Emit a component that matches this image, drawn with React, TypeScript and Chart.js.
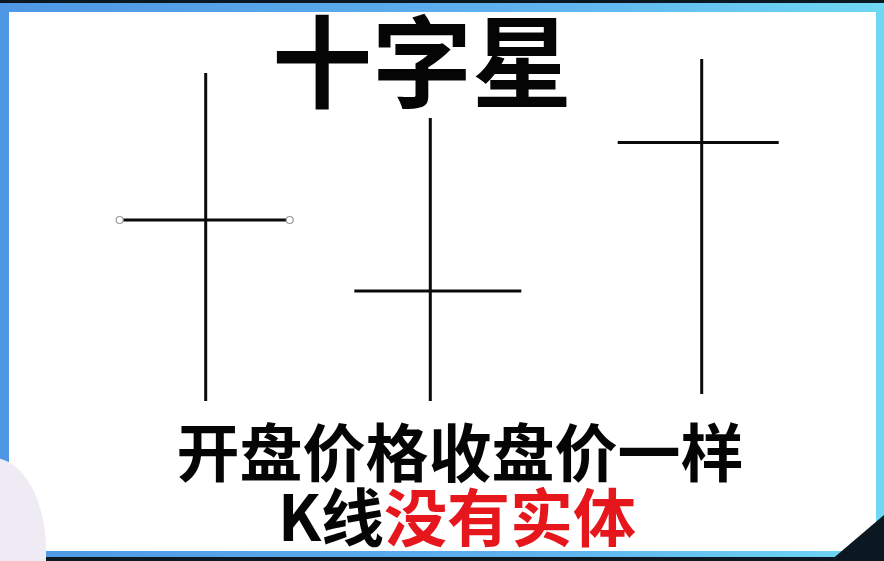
import { useEffect, useRef } from "react"
import { Chart, registerables } from "chart.js"

Chart.register(...registerables)

// three doji candles: open and close are the same price
const candleLabels = ["十字星 1", "十字星 2", "十字星 3"]
const candleX = [20.57, 43.03, 70.17]
const highs = [48.8, 44.3, 50.2]
const lows = [16.0, 16.0, 16.7]
const opens = [34.1, 27.0, 41.85]
const closes = [34.1, 27.0, 41.85]
const tickLeft = [8.6, 7.6, 8.4]
const tickRight = [8.4, 9.1, 7.7]

const TITLE = "十字星"
const LINE_ONE = "开盘价格收盘价一样"
const LINE_TWO_BLACK = "K线"
const LINE_TWO_RED = "没有实体"

const FONT = '"Noto Sans CJK SC", "Noto Sans", sans-serif'

function DojiChart() {
  const chartRef = useRef<HTMLCanvasElement | null>(null)
  const chartInstance = useRef<Chart | null>(null)

  useEffect(() => {
    if (!chartRef.current) return

    const wicks = candleLabels.map((label, i) => ({
      label: label + " 上下影线",
      data: [
        { x: candleX[i], y: lows[i] },
        { x: candleX[i], y: highs[i] },
      ],
      borderColor: "#0a0a0a",
      borderWidth: 3,
      borderCapStyle: "butt" as const,
      pointRadius: 0,
      showLine: true,
    }))

    const ticks = candleLabels.map((label, i) => ({
      label: label + " 开盘=收盘",
      data: [
        { x: candleX[i] - tickLeft[i], y: opens[i] },
        { x: candleX[i] + tickRight[i], y: closes[i] },
      ],
      borderColor: "#0a0a0a",
      borderWidth: 3,
      borderCapStyle: "butt" as const,
      // the first one still shows its selection handles
      pointRadius: i === 0 ? 3.5 : 0,
      pointBorderWidth: 1.2,
      pointBorderColor: "#9a9a9a",
      pointBackgroundColor: "#ffffff",
      showLine: true,
    }))

    if (chartInstance.current) {
      chartInstance.current.destroy()
    }

    const ctx = chartRef.current.getContext("2d")

    if (ctx) {
      chartInstance.current = new Chart(ctx, {
        type: "scatter",
        data: { datasets: [...wicks, ...ticks] },
        options: {
          responsive: false,
          animation: false,
          layout: { padding: 0, autoPadding: false },
          scales: {
            x: { type: "linear", min: 0, max: 88.4, display: false },
            y: { type: "linear", min: 0, max: 56.1, display: false },
          },
          plugins: {
            legend: { display: false },
            tooltip: { enabled: false },
          },
        },
      })
    }

    return () => {
      if (chartInstance.current) {
        chartInstance.current.destroy()
        chartInstance.current = null
      }
    }
  }, [])

  return (
    <canvas
      ref={chartRef}
      width={884}
      height={561}
      style={{ position: "absolute", left: 0, top: 0, width: 884, height: 561 }}
    />
  )
}

export default function App() {
  const textStyle = {
    position: "absolute" as const,
    transform: "translate(-50%, -50%)",
    fontWeight: 700,
    lineHeight: 1,
    color: "#050505",
    whiteSpace: "nowrap" as const,
  }

  return (
    <div
      style={{
        position: "fixed",
        left: 0,
        top: 0,
        width: 884,
        height: 561,
        overflow: "hidden",
        background: "#0b1822",
        fontFamily: FONT,
      }}
    >
      {/* blue slide frame */}
      <div
        style={{
          position: "absolute",
          left: 0,
          top: 3,
          width: 884,
          height: 554,
          background: "linear-gradient(90deg, #4f97e4 0%, #5eb2ee 60%, #6fd8f3 100%)",
        }}
      />
      <div
        style={{
          position: "absolute",
          left: 9,
          top: 12,
          width: 867,
          height: 539,
          background: "#ffffff",
        }}
      />
      {/* bevelled bottom-right corner */}
      <div
        style={{
          position: "absolute",
          left: 830,
          top: 515,
          width: 54,
          height: 46,
          background: "#0b1822",
          clipPath: "polygon(100% 0, 100% 100%, 0 100%)",
        }}
      />
      {/* presenter's shoulder at bottom left */}
      <div
        style={{
          position: "absolute",
          left: -40,
          top: 458,
          width: 86,
          height: 150,
          background: "#eeebf4",
          borderRadius: "50% 80% 0 0",
        }}
      />

      <DojiChart />

      <div style={{ ...textStyle, left: 422, top: 57, fontSize: 100 }}>{TITLE}</div>
      <div style={{ ...textStyle, left: 460, top: 448, fontSize: 63 }}>{LINE_ONE}</div>
      <div style={{ ...textStyle, left: 457, top: 513, fontSize: 63 }}>
        {LINE_TWO_BLACK}
        <span style={{ color: "#e5171c" }}>{LINE_TWO_RED}</span>
      </div>
    </div>
  )
}
